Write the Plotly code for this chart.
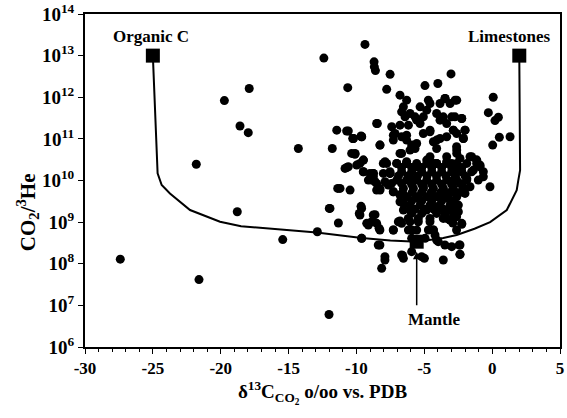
import plotly.graph_objects as go

# ---- data ----
# sample points: delta13C (per mil) and log10(CO2/3He)
dots_d13c = [
    -27.4, -25.0, -3.1, -12.02, -21.6, -21.8, -19.73, -17.9, -18.58, -17.97, -18.78, -15.43, -14.28, -11.78, -12.88,
    -9.37, -12.4, -8.7, -8.68, -8.6, -7.52, -3.03, -4.95, -4.0, -10.64, -7.77, 0.08, -0.28, 0.46, 0.21, 1.32, 0.53, 0.04,
    -11.45, -10.6, -10.27, -9.66, -8.46, -11.38, -12.0, -11.33,
    -6.79, -6.30, -6.54, -6.67, -6.42, -6.05, -5.68, -5.31, -4.70, -4.58, -4.82, -5.07, -5.31, -5.56, -4.58, -3.84,
    -3.47, -3.10, -2.61, -4.09, -3.84, -3.60, -3.35, -2.74, -2.24, -2.86, -2.61, -2.0, -2.12, -3.84, -4.33, -4.09,
    -8.51, -7.40, -7.16, -6.79, -6.17, -7.28, -6.67, -6.30, -5.93, -5.68, -6.67, -8.26, -10.72, -10.23, -9.61, -10.1,
    -9.49, -7.89, -7.03, -6.30, -5.56, -4.82, -4.33, -3.35, -2.61, -2.37, -1.63, -1.14, -0.89,
    -3.47, -2.73, -2.98, -2.24, -2.86, -2.0, -2.12, -2.61, -1.51, -1.14, -0.89, -1.38, -0.65, -0.16, -1.87, -2.37,
    -1.63, -2.61, -2.0, -2.86, -2.49, -2.98, -2.24, -2.37, -2.37,
    -10.72, -9.98, -9.49, -8.75, -9.12, -8.51, -8.02, -7.65, -7.28, -6.79, -6.54, -6.91, -11.21, -10.47, -11.95,
    -9.66, -9.79, -9.61, -8.63, -9.24, -8.87, -8.33, -8.39, -7.28, -7.9, -8.14, -6.67, -6.6, -6.54, -5.93, -4.99,
    -3.6, -2.42, -2.37, -3.35, -2.9, -2.24, -4.33, -4.21, -3.97,
    -10.23, -9.62, -8.27, -10.11, -10.84, -10.6, -9.49, -9.49, -8.76, -8.02, -8.63, -8.27, -8.88, -7.53, -7.41,
    -7.28, -6.67, -6.79, -6.55, -6.05, -6.18, -5.93, -9.62, -9.74, -9.12, -8.51, -8.27, -8.76, -9.62, -7.28,
    -6.79, -8.27, -7.9, -6.67, -5.2, -5.44, -4.7, -4.09, -3.48, -3.11, -2.62, -2.98,
    -7.28, -6.3, -5.56, -5.07, -4.58, -4.09, -3.35, -2.62, -6.79, -6.05, -6.3, -5.56, -4.58, -4.09, -3.35, -2.98,
    -2.62, -2.86, -3.6, -3.11, -4.46, -5.07, -5.81, -5.32, -4.83, -4.09, -3.35, -2.62, -4.58, -3.6, -2.62,
    -10.35, -9.74, -9.0, -8.75, -8.51, -8.26, -7.77, -7.52, -7.89,
    -7.03, -6.30, -5.56, -4.82, -4.09, -3.35, -2.61, -1.87, -1.14,
    -7.53, -6.67, -5.93, -5.19, -4.45, -3.72, -2.98, -2.24, -1.51, -0.65,
    -7.03, -6.30, -5.56, -4.82, -4.09, -3.35, -2.61, -1.87, -1.02,
    -6.54, -5.80, -5.07, -4.33, -3.59, -2.86, -2.12,
    -6.30, -5.56, -4.82, -4.09, -3.35, -2.61,
    -6.05, -5.31, -4.58, -3.84, -3.10, -2.49,
    -5.93, -5.19, -4.09, -3.47, -2.86,
    -6.05, -5.44, -4.58,
    -6.17, -5.56, -4.33,
    -5.93, -4.94,
    -6.67, -5.93, -5.19, -4.45, -3.72, -2.98, -2.24,
    -5.93, -5.19, -4.45, -3.72, -2.98, -2.24,
    -5.93, -5.19, -4.45, -3.72, -2.98,
    -6.9, -6.2, -5.5, -4.8, -4.1, -3.4, -2.7, -2.0,
    -6.6, -5.9, -5.2, -4.5, -3.8, -3.1, -2.4,
    -5.7, -5.0, -4.3, -3.6, -2.9,
]
dots_log_ratio = [
    8.11, 6.0, 6.0, 6.78, 7.62, 10.39, 11.92, 12.21, 11.31, 11.15, 9.25, 8.58, 10.77, 10.77, 8.77,
    13.27, 12.94, 12.85, 12.73, 12.64, 12.55, 12.56, 12.28, 12.33, 12.23, 12.19, 12.0, 11.63, 11.52, 11.44, 11.05, 11.04, 10.85,
    11.21, 11.19, 11.01, 11.07, 11.37, 9.81, 9.33, 8.98,
    12.05, 11.93, 11.77, 11.65, 11.53, 11.61, 11.53, 11.77, 11.93, 11.85, 11.69, 11.53, 11.37, 11.45, 11.21, 11.85,
    11.97, 11.85, 11.93, 11.61, 11.45, 11.53, 11.37, 11.53, 11.49, 11.21, 11.13, 11.21, 11.01, 11.01, 10.93, 10.77,
    11.37, 11.29, 11.13, 11.33, 11.33, 10.97, 11.05, 10.97, 10.85, 10.77, 10.65, 10.85, 11.19, 11.01, 11.05, 10.65,
    10.49, 10.45, 10.41, 10.45, 10.37, 10.49, 10.41, 10.45, 10.73, 10.53, 10.57, 10.49, 10.37,
    11.97, 11.93, 11.53, 11.49, 11.21, 11.21, 11.01, 10.65, 10.57, 10.49, 10.33, 10.25, 10.09, 9.85, 10.05, 9.93,
    9.85, 9.69, 9.69, 9.45, 9.25, 9.05, 8.97, 8.45, 8.23,
    10.31, 10.37, 10.21, 10.17, 10.01, 9.77, 10.17, 9.89, 9.73, 9.49, 9.29, 9.01, 9.81, 9.77, 9.33,
    9.38, 9.21, 8.61, 9.18, 8.97, 9.01, 8.85, 8.45, 8.81, 8.09, 7.89, 8.97, 8.2, 8.13, 8.29, 8.13,
    8.09, 8.45, 8.22, 9.09, 8.98, 8.95, 8.81, 8.69, 8.53,
    11.01, 11.05, 10.85, 10.63, 10.29, 10.33, 10.49, 10.21, 10.17, 10.41, 9.97, 9.81, 10.01, 10.17, 9.93,
    9.73, 9.93, 9.65, 9.45, 9.29, 9.09, 8.81, 9.33, 9.17, 8.93, 8.97, 8.81, 9.17, 8.61, 8.81,
    9.03, 8.45, 8.17, 8.21, 8.17, 9.09, 8.81, 8.57, 8.45, 9.05, 8.81, 8.41,
    11.09, 11.09, 10.89, 11.13, 11.17, 10.97, 11.05, 10.81, 10.65, 10.73, 10.41, 10.33, 10.57, 10.41, 10.57, 10.41,
    10.25, 10.01, 9.69, 9.53, 9.69, 9.85, 10.01, 9.53, 9.29, 9.37, 9.29, 9.37, 9.09, 9.09, 9.13,
    10.65, 10.41, 10.17, 10.09, 9.93, 9.77, 10.41, 10.17, 9.97,
    10.41, 10.41, 10.41, 10.41, 10.41, 10.41, 10.41, 10.41, 10.41,
    10.21, 10.21, 10.21, 10.21, 10.21, 10.21, 10.21, 10.21, 10.21, 10.21,
    10.01, 10.01, 10.01, 10.01, 10.01, 10.01, 10.01, 10.01, 10.01,
    9.81, 9.81, 9.81, 9.81, 9.81, 9.81, 9.81,
    9.61, 9.61, 9.61, 9.61, 9.61, 9.61,
    9.41, 9.41, 9.41, 9.41, 9.41, 9.41,
    9.21, 9.21, 9.21, 9.21, 9.21,
    9.01, 9.01, 9.01,
    8.81, 8.81, 8.81,
    8.61, 8.61,
    10.31, 10.31, 10.31, 10.31, 10.31, 10.31, 10.31,
    9.91, 9.91, 9.91, 9.91, 9.91, 9.91,
    9.51, 9.51, 9.51, 9.51, 9.51,
    10.11, 10.11, 10.11, 10.11, 10.11, 10.11, 10.11, 10.11,
    9.71, 9.71, 9.71, 9.71, 9.71, 9.71, 9.71,
    9.31, 9.31, 9.31, 9.31, 9.31,
]

# end members
end_names = ["Organic C", "Limestones", "Mantle"]
end_d13c = [-25.0, 2.0, -5.56]
end_log_ratio = [13.0, 13.0, 8.53]

# mixing curves
left_curve_d13c = [-25.0, -24.65, -24.35, -23.74, -22.26, -20.05, -18.5, -15.63, -12.93, -9.61, -7.5, -5.56]
left_curve_log = [13.0, 10.17, 9.89, 9.69, 9.29, 9.01, 8.9, 8.83, 8.75, 8.62, 8.56, 8.53]
right_curve_d13c = [2.0, 2.06, 1.93, 1.81, 1.08, -0.15, -1.3, -2.61, -3.6, -4.58, -5.56]
right_curve_log = [13.0, 10.25, 10.01, 9.77, 9.29, 9.0, 8.84, 8.69, 8.62, 8.57, 8.53]

y_tick_exp = [6, 7, 8, 9, 10, 11, 12, 13, 14]
x_tick_vals = [-30, -25, -20, -15, -10, -5, 0, 5]

FONT = "Liberation Serif"

fig = go.Figure()

fig.add_trace(go.Scatter(
    x=left_curve_d13c, y=[10 ** v for v in left_curve_log], mode="lines",
    line=dict(color="black", width=2), showlegend=False, hoverinfo="skip"))
fig.add_trace(go.Scatter(
    x=right_curve_d13c, y=[10 ** v for v in right_curve_log], mode="lines",
    line=dict(color="black", width=2), showlegend=False, hoverinfo="skip"))

fig.add_trace(go.Scatter(
    x=dots_d13c, y=[10 ** v for v in dots_log_ratio], mode="markers",
    marker=dict(color="black", size=9, line=dict(width=0)),
    cliponaxis=False, showlegend=False))

fig.add_trace(go.Scatter(
    x=end_d13c, y=[10 ** v for v in end_log_ratio], mode="markers",
    marker=dict(color="black", symbol="square", size=14),
    cliponaxis=False, showlegend=False))

fig.add_annotation(x=-25.17, y=13.0, text="<b>Organic C</b>", showarrow=False,
                   yshift=19, font=dict(family=FONT, size=17, color="black"))
fig.add_annotation(x=1.3, y=13.0, text="<b>Limestones</b>", showarrow=False,
                   yshift=19, font=dict(family=FONT, size=17, color="black"))
# arrow pointing at the mantle end member
fig.add_annotation(x=end_d13c[2], y=8.29, text="", showarrow=True,
                   ax=0, ay=55, arrowhead=2, arrowsize=1, arrowwidth=1.5, arrowcolor="black")
fig.add_annotation(x=-4.28, y=6.67, text="<b>Mantle</b>", showarrow=False,
                   font=dict(family=FONT, size=17, color="black"))

# y-axis title drawn as rotated text
fig.add_annotation(xref="paper", yref="paper", x=-0.122, y=0.405,
                   xanchor="center", yanchor="middle",
                   text="<b>CO<sub>2</sub>/<sup>3</sup>He</b>", textangle=-90, showarrow=False,
                   font=dict(family=FONT, size=21, color="black"))

fig.update_layout(
    width=567, height=418,
    margin=dict(l=85, r=7, t=14, b=71),
    paper_bgcolor="white", plot_bgcolor="white",
    font=dict(family=FONT, color="black"),
)

fig.update_xaxes(
    range=[-30, 5], tickvals=x_tick_vals, ticktext=["<b>%d</b>" % v for v in x_tick_vals],
    automargin=False,
    showgrid=False, zeroline=False, showline=True, linecolor="black", linewidth=2,
    mirror=True, ticks="outside", ticklen=5, tickwidth=1, tickcolor="black",
    minor=dict(dtick=1, ticks="outside", ticklen=3, tickcolor="black", tickwidth=1),
    tickfont=dict(family=FONT, size=17, color="black"),
    title=dict(text="<b>δ<sup>13</sup>C<sub>CO<sub>2</sub></sub> o/oo vs. PDB</b>",
               font=dict(family=FONT, size=19, color="black"), standoff=4),
)
fig.update_yaxes(
    type="log", range=[6, 14], automargin=False,
    tickvals=[10 ** e for e in y_tick_exp],
    ticktext=["<b>10<sup>%d</sup></b>" % e for e in y_tick_exp],
    showgrid=False, zeroline=False, showline=True, linecolor="black", linewidth=2,
    mirror=True, ticks="outside", ticklen=5, tickwidth=1, tickcolor="black",
    tickfont=dict(family=FONT, size=19, color="black"),
)

# remove the default page margin so the 567x418 figure fills the window exactly
fig.write_html("out.html", config={"displayModeBar": False},
               post_script="document.body.style.margin='0';document.body.style.overflow='hidden';")
